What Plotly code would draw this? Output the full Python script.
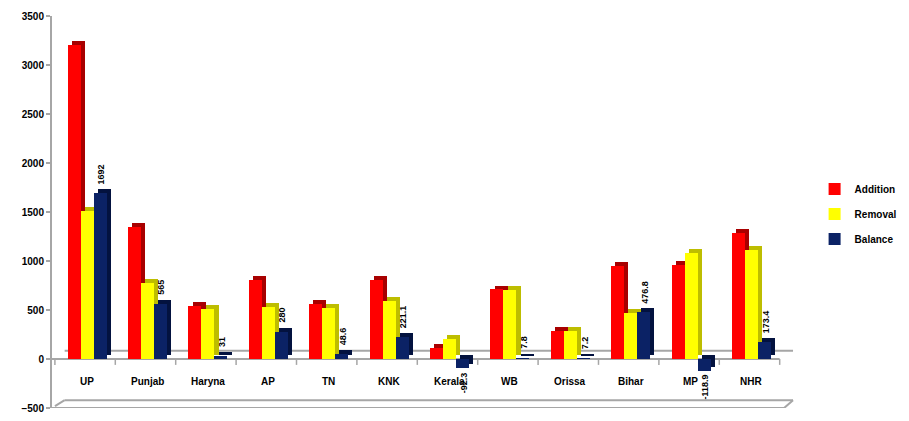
import plotly.graph_objects as go

# State-wise additions, removals and resulting balance
categories = ["UP", "Punjab", "Haryna", "AP", "TN", "KNK", "Kerala", "WB", "Orissa", "Bihar", "MP", "NHR"]
addition = [3200, 1345, 540, 810, 565, 810, 115, 710, 290, 950, 960, 1285]
removal = [1508, 780, 509, 530, 516.4, 588.9, 207.3, 702.2, 282.8, 473.2, 1078.9, 1111.6]
balance = [1692, 565, 31, 280, 48.6, 221.1, -92.3, 7.8, 7.2, 476.8, -118.9, 173.4]
balance_labels = ["1692", "565", "31", "280", "48.6", "221.1", "-92.3", "7.8", "7.2", "476.8", "-118.9", "173.4"]
y_ticks = [-500, 0, 500, 1000, 1500, 2000, 2500, 3000, 3500]

FONT = "Liberation Sans"
BAR_W = 0.215      # width of a bar's front face (category units)
DEPTH_X = 0.07     # horizontal depth of the pseudo-3D side
DEPTH_Y = 40       # vertical depth of the pseudo-3D top

series = [
    ("Addition", addition, "#FF0000", "#A80000", -0.29),
    ("Removal", removal, "#FFFF00", "#BDBD00", -0.075),
    ("Balance", balance, "#0B2265", "#03123F", 0.14),
]

fig = go.Figure()
for name, vals, face, side, off in series:
    # darker block behind the face gives the side and top of each column
    fig.add_trace(go.Bar(
        x=categories, y=vals, base=[DEPTH_Y] * len(vals),
        offset=off + DEPTH_X, width=BAR_W,
        marker=dict(color=side, line=dict(width=0)),
        showlegend=False, hoverinfo="skip", legendgroup=name,
    ))
    fig.add_trace(go.Bar(
        x=categories, y=vals, name=name,
        offset=off, width=BAR_W,
        marker=dict(color=face, line=dict(width=0)),
        legendgroup=name,
    ))

annotations = []
# balance values written vertically beside the blue columns
bal_off = series[2][4] + BAR_W / 2 + 0.02
for i, (v, t) in enumerate(zip(balance, balance_labels)):
    if v >= 0:
        annotations.append(dict(x=i + bal_off, y=v + DEPTH_Y, text=t, textangle=-90,
                                yanchor="bottom", xanchor="center", yshift=3, showarrow=False,
                                font=dict(family=FONT, size=9, color="black", weight="bold")))
    else:
        annotations.append(dict(x=i + bal_off, y=v, text=t, textangle=-90,
                                yanchor="top", xanchor="center", yshift=-2, showarrow=False,
                                font=dict(family=FONT, size=9, color="black", weight="bold")))

# category names sit on the floor in front of the columns
for i, c in enumerate(categories):
    annotations.append(dict(x=i + 0.03, y=-230, text=c, showarrow=False,
                            xanchor="center", yanchor="middle",
                            font=dict(family=FONT, size=10, color="black", weight="bold")))

GRAY = "#A6A6A6"
line = dict(color=GRAY, width=2)
shapes = [
    # floor: back edge and front edge
    dict(type="line", xref="paper", yref="y", x0=0.017, x1=0.996, y0=85, y1=85, line=line),
    dict(type="line", xref="paper", yref="y", x0=0.0, x1=0.978, y0=0, y1=0, line=line),
    # bottom frame
    dict(type="line", xref="paper", yref="y", x0=0.0, x1=0.984, y0=-500, y1=-500, line=line),
    dict(type="line", xref="paper", yref="y", x0=0.017, x1=0.996, y0=-420, y1=-420, line=line),
    dict(type="line", xref="paper", yref="y", x0=0.004, x1=0.017, y0=-480, y1=-420, line=line),
    dict(type="line", xref="paper", yref="y", x0=0.984, x1=0.996, y0=-500, y1=-420, line=line),
]
# category separators below the floor front edge
for k in range(len(categories) + 1):
    shapes.append(dict(type="line", xref="x", yref="y", x0=k - 0.5, x1=k - 0.5,
                       y0=0, y1=-60, line=dict(color=GRAY, width=1.5)))
for s in shapes:
    s["layer"] = "below"

fig.update_layout(
    width=909, height=421,
    margin=dict(l=52, r=89, t=16, b=7),
    paper_bgcolor="white", plot_bgcolor="white",
    barmode="overlay", bargap=0,
    font=dict(family=FONT, color="black"),
    xaxis=dict(type="category", range=[-0.548, 11.77], showticklabels=False,
               showgrid=False, zeroline=False, showline=False, ticks=""),
    yaxis=dict(range=[-500, 3500], tickvals=y_ticks, showgrid=False, zeroline=False,
               showline=True, linecolor=GRAY, linewidth=2, ticks="outside",
               ticklen=4, tickcolor=GRAY, tickwidth=1.5,
               tickfont=dict(family=FONT, size=10, color="black", weight="bold")),
    legend=dict(x=1.025, y=0.495, xanchor="left", yanchor="middle",
                font=dict(family=FONT, size=10, color="black", weight="bold"),
                traceorder="grouped", tracegroupgap=6, itemwidth=30,
                bgcolor="rgba(0,0,0,0)"),
    annotations=annotations,
    shapes=shapes,
    hovermode=False,
)

fig.write_html("out.html")
